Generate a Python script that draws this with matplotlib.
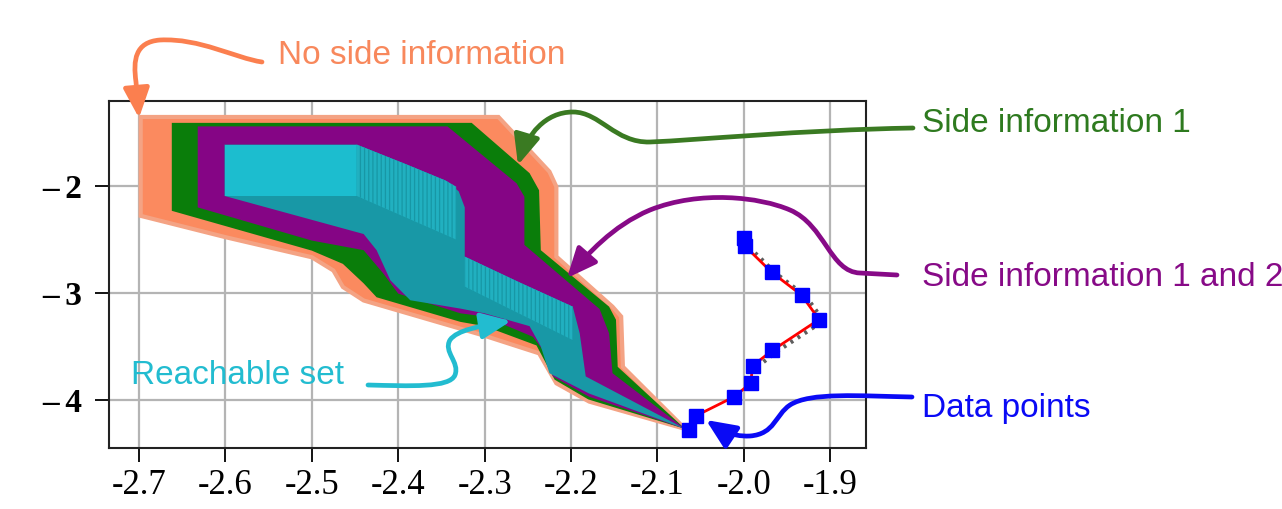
import numpy as np
import matplotlib
matplotlib.use("Agg")
import matplotlib.pyplot as plt
from matplotlib.patches import Polygon, FancyArrowPatch
from matplotlib.path import Path

plt.rcParams['hatch.linewidth'] = 0.9

#_______________________________________________________________________________
# Data

# reachable set boundaries, no side information
NOSIDE_X = [-2.698, -2.284, -2.225, -2.217, -2.217, -2.152, -2.142, -2.140, -2.068,
            -2.179, -2.217, -2.237, -2.300, -2.440, -2.464, -2.475, -2.500, -2.599, -2.698]
NOSIDE_Y = [-1.355, -1.355, -1.866, -2.006, -2.660, -3.128, -3.220, -3.690, -4.270,
            -4.015, -3.844, -3.564, -3.400, -3.070, -2.944, -2.790, -2.666, -2.480, -2.279]

# side information 1
SIDE1_X = [-2.662, -2.315, -2.248, -2.237, -2.235, -2.156, -2.148, -2.146, -2.068,
           -2.180, -2.219, -2.240, -2.300, -2.328, -2.425, -2.440, -2.464, -2.500, -2.662]
SIDE1_Y = [-1.410, -1.410, -1.880, -2.040, -2.600, -3.128, -3.250, -3.690, -4.270,
           -3.995, -3.810, -3.490, -3.310, -3.270, -3.040, -2.910, -2.728, -2.604, -2.232]

# side information 1 and 2
SIDE12_X = [-2.632, -2.343, -2.263, -2.254, -2.254, -2.167, -2.156, -2.152, -2.068,
            -2.179, -2.221, -2.233, -2.244, -2.300, -2.328, -2.400, -2.417, -2.440, -2.500, -2.632]
SIDE12_Y = [-1.443, -1.443, -1.975, -2.100, -2.550, -3.150, -3.377, -3.750, -4.270,
            -3.970, -3.780, -3.530, -3.410, -3.220, -3.190, -3.006, -2.820, -2.600, -2.510, -2.200]

# reachable set
REACH_X = [-2.601, -2.448, -2.390, -2.345, -2.330, -2.323, -2.323, -2.260, -2.198, -2.190, -2.183, -2.068,
           -2.179, -2.225, -2.235, -2.248, -2.300, -2.328, -2.386, -2.409, -2.425, -2.440, -2.601]
REACH_Y = [-1.613, -1.613, -1.800, -1.950, -2.050, -2.200, -2.660, -2.900, -3.128, -3.377, -3.780, -4.270,
           -3.940, -3.750, -3.500, -3.310, -3.190, -3.146, -3.068, -2.882, -2.600, -2.449, -2.093]
REACH_TOP_X = [-2.601, -2.448, -2.448, -2.601]
REACH_TOP_Y = [-1.613, -1.613, -2.093, -2.093]
STRIPE1_X = [-2.448, -2.390, -2.345, -2.333, -2.333, -2.448]
STRIPE1_Y = [-1.613, -1.800, -1.950, -2.006, -2.500, -2.093]
STRIPE2_X = [-2.323, -2.260, -2.198, -2.198, -2.323]
STRIPE2_Y = [-2.660, -2.900, -3.128, -3.440, -2.940]

# data points
DATA_X = [-2.000, -1.999, -1.968, -1.933, -1.913, -1.967, -1.990, -1.992, -2.011, -2.055, -2.063]
DATA_Y = [-2.490, -2.560, -2.805, -3.022, -3.248, -3.536, -3.681, -3.842, -3.969, -4.146, -4.285]

X_TICKS = [-2.7, -2.6, -2.5, -2.4, -2.3, -2.2, -2.1, -2.0, -1.9]
X_TICKLABELS = ['-2.7', '-2.6', '-2.5', '-2.4', '-2.3', '-2.2', '-2.1', '-2.0', '-1.9']
Y_TICKS = [-2, -3, -4]
Y_TICKLABELS = ['\u2013\u20092', '\u2013\u20093', '\u2013\u20094']

# colours
CORAL = "#fb8a5f"
CORAL_EDGE = "#f4a384"
GREEN = "#0a7d0a"
PURPLE = "#850585"
TEAL = "#1898a6"
CYAN = "#1cbdcf"
STRIPE = "#21b0c0"

#_______________________________________________________________________________
# Plot

W, H = 1282, 509
fig = plt.figure(figsize=(W / 100, H / 100), dpi=100)
ax = fig.add_axes([0.0850, 0.1198, 0.5905, 0.6817])

ax.add_patch(Polygon(np.c_[NOSIDE_X, NOSIDE_Y], closed=True, facecolor=CORAL,
                     edgecolor=CORAL_EDGE, linewidth=3, zorder=2))
ax.add_patch(Polygon(np.c_[SIDE1_X, SIDE1_Y], closed=True, facecolor=GREEN,
                     edgecolor='none', zorder=3))
ax.add_patch(Polygon(np.c_[SIDE12_X, SIDE12_Y], closed=True, facecolor=PURPLE,
                     edgecolor='none', zorder=4))
ax.add_patch(Polygon(np.c_[REACH_X, REACH_Y], closed=True, facecolor=TEAL,
                     edgecolor='none', zorder=5))
ax.add_patch(Polygon(np.c_[REACH_TOP_X, REACH_TOP_Y], closed=True, facecolor=CYAN,
                     edgecolor='none', zorder=6))
for sx, sy in [(STRIPE1_X, STRIPE1_Y), (STRIPE2_X, STRIPE2_Y)]:
    ax.add_patch(Polygon(np.c_[sx, sy], closed=True, facecolor=STRIPE,
                         edgecolor="#1797a5", linewidth=0, hatch='||||', zorder=6))

# data trajectory, with the grey shadow ticks on the upper part
sx = np.array(DATA_X[1:7]) + 0.005
sy = np.array(DATA_Y[1:7]) - 0.012
ax.plot(sx, sy, color="#5e5e5e", lw=3, dashes=(0.7, 1.3), zorder=7)
ax.plot(DATA_X, DATA_Y, color="red", lw=2, zorder=8)
ax.plot(DATA_X, DATA_Y, ls='none', marker='s', ms=10, color="blue", zorder=9)

ax.set_xlim(-2.7347, -1.8587)
ax.set_ylim(-4.449, -1.206)
ax.set_xticks(X_TICKS)
ax.set_xticklabels(X_TICKLABELS, family='Liberation Serif', fontsize=25)
ax.set_yticks(Y_TICKS)
ax.set_yticklabels(Y_TICKLABELS, family='Liberation Serif', fontweight='bold', fontsize=24)
ax.tick_params(direction='out', length=10, width=1.3, pad=9, colors='black')
ax.tick_params(axis='x', pad=5)
ax.grid(True, color="#b4b4b4", linewidth=1.6, zorder=0)
ax.set_axisbelow(True)
for s in ax.spines.values():
    s.set_linewidth(1.5)
    s.set_color("#222222")

#_______________________________________________________________________________
# Annotations (figure pixel coordinates, origin top-left)

def px(p):
    return (p[0] / W, 1 - p[1] / H)

def curved_arrow(points, codes, color):
    verts = [px(p) for p in points]
    arrow = FancyArrowPatch(path=Path(verts, codes), transform=fig.transFigure,
                            arrowstyle="-|>,head_length=0.5,head_width=0.22",
                            mutation_scale=36, color=color, linewidth=3.4,
                            capstyle='round', joinstyle='round')
    fig.add_artist(arrow)

M, C, L = Path.MOVETO, Path.CURVE4, Path.LINETO

curved_arrow([(262, 62), (235, 58), (200, 38), (160, 40), (135, 42), (133, 60), (136, 82), (139, 118)],
             [M, C, C, C, C, C, C, L], "#fb7f4f")
curved_arrow([(913, 128), (800, 130), (700, 140), (650, 142), (615, 143), (600, 112), (573, 112),
              (545, 112), (527, 135), (518, 165)],
             [M, C, C, C, C, C, C, C, C, C], "#3a7a22")
curved_arrow([(897, 275), (860, 273), (830, 272), (825, 225), (790, 210), (760, 197), (700, 190),
              (650, 210), (612, 226), (587, 255), (567, 278)],
             [M, L, C, C, C, C, C, C, C, C, C], "#870a87")
curved_arrow([(368, 385), (410, 386), (450, 388), (455, 375), (460, 362), (443, 352), (450, 340),
              (457, 330), (480, 326), (511, 321)],
             [M, C, C, C, C, C, C, C, C, C], "#22bcd0")
curved_arrow([(912, 397), (860, 396), (810, 392), (790, 405), (775, 415), (775, 434), (750, 436),
              (730, 437), (718, 428), (706, 420)],
             [M, C, C, C, C, C, C, C, C, C], "#0a0af5")

TEXT_KW = dict(family='Liberation Sans', fontsize=24, va='center', ha='left')
fig.text(*px((278, 56)), "No side information", color="#f8885c", **TEXT_KW)
fig.text(*px((922, 124)), "Side information 1", color="#2e7a1f", **TEXT_KW)
fig.text(*px((922, 278)), "Side information 1 and 2", color="#870a87", **TEXT_KW)
fig.text(*px((131, 376)), "Reachable set", color="#22bcd0", **TEXT_KW)
fig.text(*px((922, 408)), "Data points", color="#0a0af5", **TEXT_KW)

fig.savefig("out.png", dpi=100)
